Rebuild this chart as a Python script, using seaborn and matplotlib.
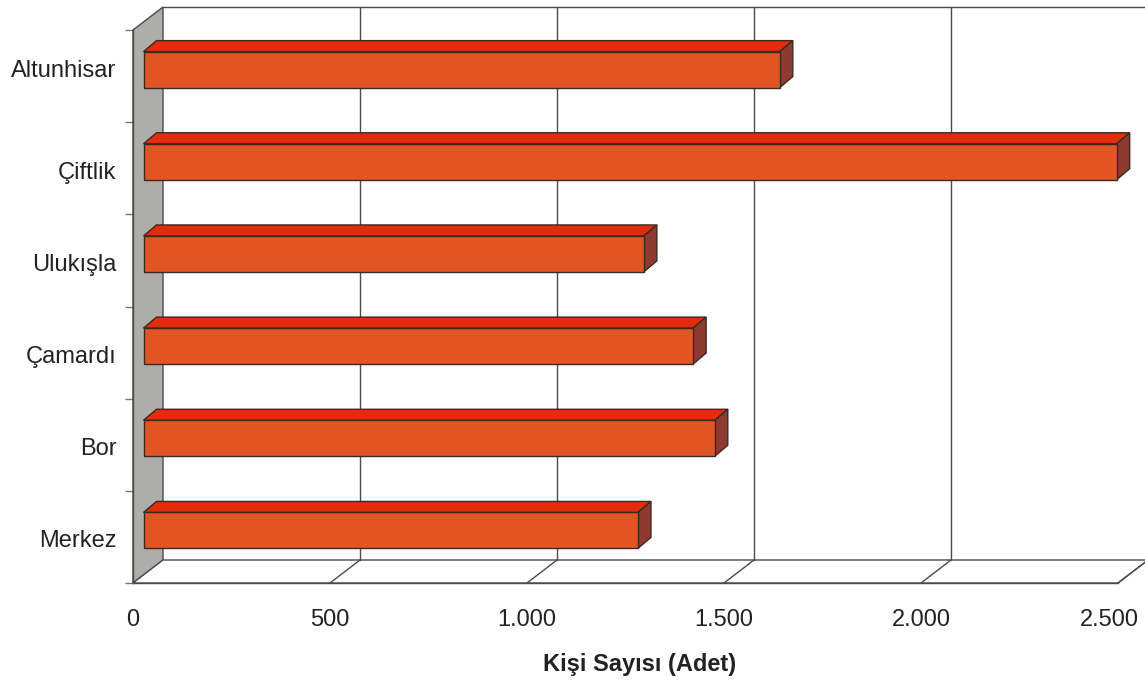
import numpy as np
import pandas as pd
import seaborn as sns
import matplotlib
matplotlib.use("Agg")
import matplotlib.pyplot as plt
from matplotlib.transforms import ScaledTranslation, IdentityTransform
from matplotlib.patches import Polygon
from matplotlib.lines import Line2D

# ---- data ----
categories = ["Altunhisar", "Çiftlik", "Ulukışla", "Çamardı", "Bor", "Merkez"]
values = [1615, 2470, 1270, 1395, 1450, 1255]
x_ticks = [0, 500, 1000, 1500, 2000, 2500]
x_tick_labels = ["0", "500", "1.000", "1.500", "2.000", "2.500"]
x_label = "Kişi Sayısı (Adet)"

sns.set_theme(style="white")
plt.rcParams['font.family'] = ['Liberation Sans', 'DejaVu Sans']

DPI = 100
W, H = 1145, 683
fig = plt.figure(figsize=(W / DPI, H / DPI), dpi=DPI)
ax = fig.add_axes([133 / W, 100 / H, 985 / W, 553 / H])

FRONT = "#E05523"
TOP = "#E42B0A"
SIDE = "#8E3A2F"
EDGE = "#3A2A24"
WALL = "#ADADAB"
GRID = "#4A4A4A"

df = pd.DataFrame({"cat": categories, "val": values})
sns.barplot(data=df, x="val", y="cat", orient="h", color=FRONT, saturation=1,
            width=0.39, edgecolor=EDGE, linewidth=1.0, ax=ax, zorder=5)
bars = list(ax.patches)

ax.set_xlim(0, 2500)
ax.set_ylim(5.5, -0.5)

# depth offsets (pixels)
DX, DY = 30, 23          # full depth of plot box
BX, BY = 10.5, 6.5       # bar front-face offset
BDX, BDY = 13, 11        # bar depth

fig.canvas.draw()
toD = ax.transData.transform
idt = IdentityTransform()


def add(artist, z):
    artist.set_transform(idt)
    artist.set_clip_on(False)
    artist.set_zorder(z)
    ax.add_artist(artist)


# back wall (left, grey)
p_top = toD((0, -0.5)); p_bot = toD((0, 5.5))
add(Polygon([p_bot, p_top, p_top + [DX, DY], p_bot + [DX, DY]], closed=True,
            facecolor=WALL, edgecolor=GRID, linewidth=1.0), 1)

# floor
f0 = toD((0, 5.5)); f1 = toD((2500, 5.5))
add(Polygon([f0, f1, f1 + [DX, DY], f0 + [DX, DY]], closed=True,
            facecolor="white", edgecolor=GRID, linewidth=1.0), 1)

# back top edge
add(Line2D([p_top[0] + DX, toD((2500, -0.5))[0] + DX],
           [p_top[1] + DY, p_top[1] + DY], color=GRID, lw=1.0), 1.5)

# back vertical gridlines and floor diagonals
for xv in x_ticks[1:]:
    a = toD((xv, 5.5)); b = toD((xv, -0.5))
    add(Line2D([a[0] + DX, b[0] + DX], [a[1] + DY, b[1] + DY], color=GRID, lw=1.0), 1.5)
    add(Line2D([a[0], a[0] + DX], [a[1], a[1] + DY], color=GRID, lw=1.0), 1.5)

# 3D bars: front faces shifted, top and side faces added
shift = ScaledTranslation(BX / DPI, BY / DPI, fig.dpi_scale_trans)
d = np.array([BDX, BDY])
for p in bars:
    x0, y0, w, h = p.get_x(), p.get_y(), p.get_width(), p.get_height()
    p.set_transform(ax.transData + shift)
    p.set_clip_on(False)
    p.set_zorder(5)
    tl = toD((x0, y0)) + [BX, BY]
    tr = toD((x0 + w, y0)) + [BX, BY]
    br = toD((x0 + w, y0 + h)) + [BX, BY]
    add(Polygon([tl, tr, tr + d, tl + d], closed=True, facecolor=TOP,
                edgecolor=EDGE, linewidth=1.0), 4)
    add(Polygon([tr, br, br + d, tr + d], closed=True, facecolor=SIDE,
                edgecolor=EDGE, linewidth=1.0), 4)

# axes styling
for s in ["top", "right"]:
    ax.spines[s].set_visible(False)
for s in ["left", "bottom"]:
    ax.spines[s].set_color(GRID)
    ax.spines[s].set_linewidth(1.0)
    ax.spines[s].set_zorder(2)
ax.patch.set_alpha(0)

ax.set_xticks(x_ticks)
ax.set_xticklabels(x_tick_labels, fontsize=17, color="#222222")
ax.tick_params(axis="x", length=6, width=1, color="#777777", pad=13)
# keep the last tick label inside the figure, as in the reference
last = ax.get_xticklabels()[-1]
last.set_transform(last.get_transform() + ScaledTranslation(-9 / DPI, 0, fig.dpi_scale_trans))

ax.set_yticks(range(len(categories)))
ax.set_yticklabels(categories, fontsize=17, color="#222222")
ax.tick_params(axis="y", which="major", length=0, pad=12)
ax.set_yticks(np.arange(-0.5, len(categories), 1.0), minor=True)
ax.tick_params(axis="y", which="minor", length=6, width=1, color="#777777", left=True)

# fine vertical placement of category labels as in the reference
label_dy = [8, -2, -2, -2, -2, -2]
for lab, dy in zip(ax.get_yticklabels(), label_dy):
    lab.set_transform(lab.get_transform() + ScaledTranslation(0, dy / DPI, fig.dpi_scale_trans))

ax.set_ylabel("")
ax.set_xlabel(x_label, fontsize=17, fontweight="bold", color="#222222", labelpad=18)
ax.xaxis.set_label_coords((640 - 133) / 985, -70 / 553)

fig.savefig("out.png", dpi=DPI)
